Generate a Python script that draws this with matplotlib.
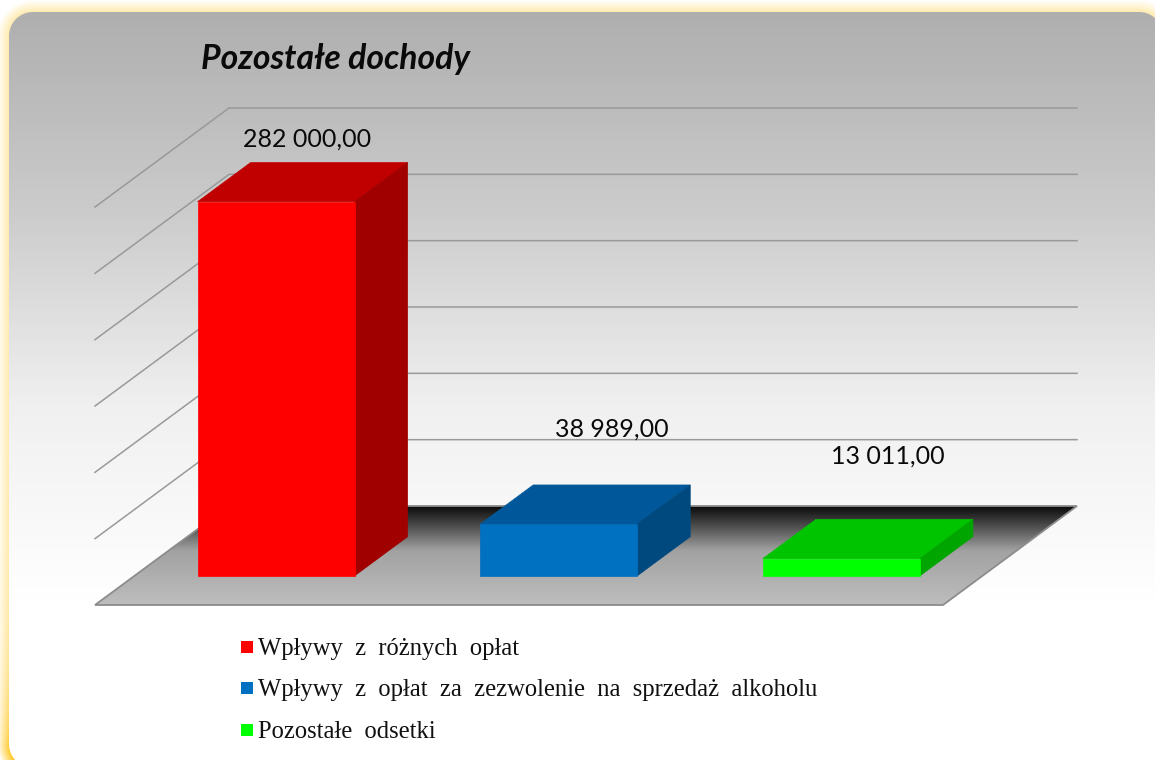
#!/usr/bin/env python3
# -*- coding: utf-8 -*-
import numpy as np
import matplotlib
matplotlib.use('Agg')
import matplotlib.pyplot as plt
from matplotlib.patches import Polygon
from matplotlib.colors import LinearSegmentedColormap

title = 'Pozostałe dochody'
categories = ['Wpływy z różnych opłat',
              'Wpływy z opłat za zezwolenie na sprzedaż alkoholu',
              'Pozostałe odsetki']
values = [282000.0, 38989.0, 13011.0]
value_labels = ['282 000,00', '38 989,00', '13 011,00']
grid_values = [50000, 100000, 150000, 200000, 250000, 300000]

front_cols = ['#ff0000', '#0070c0', '#00ff00']
top_cols = ['#c00000', '#00589a', '#00c400']
side_cols = ['#a00000', '#00497f', '#00a500']

# pixel scale of the fake 3d chart
W, H = 1155, 760
PX_CAT = 282.67
PX_VAL = 398.0 / 300000
X0, Y0 = 95, 605
DX, DY = 134.0, 99.0


def proj(x, d, v):
    # category x, depth d (0 front, 1 back), value v -> axes data
    return (x + d * DX / PX_CAT, v + d * DY / PX_VAL)


def px_x(p):
    return (p - X0) / PX_CAT


def px_y(p):
    return (Y0 - p) / PX_VAL


fig = plt.figure(figsize=(W / 100, H / 100), dpi=100)
ax = fig.add_axes([0, 0, 1, 1])
ext = [px_x(0), px_x(W), px_y(H), px_y(0)]
ax.axis('off')

# background: rounded panel with a yellow glow round it
px, py = np.meshgrid(np.arange(W) + 0.5, np.arange(H) + 0.5)
l, t, r, b, rad = 9, 12, 1163, 768, 24
qx = np.abs(px - (l + r) / 2) - ((r - l) / 2 - rad)
qy = np.abs(py - (t + b) / 2) - ((b - t) / 2 - rad)
sdf = np.hypot(np.maximum(qx, 0), np.maximum(qy, 0)) + np.minimum(np.maximum(qx, qy), 0) - rad
alpha = np.clip(1 - sdf / 12, 0, 1) * (0.35 + 0.65 * (py / H) ** 12)
yellow = np.array([1.0, 0.78, 0.12])
glow = 1 - alpha[..., None] * (1 - yellow)
bg = LinearSegmentedColormap.from_list('bg', ['#afafaf', '#cbcbcb', '#f0f0f0', '#ffffff'])
panel = bg(np.clip((py - 12) / 590.0, 0, 1))[..., :3]
inside = np.clip(0.5 - sdf, 0, 1)[..., None]
ax.imshow(inside * panel + (1 - inside) * glow, extent=ext, aspect='auto', origin='upper', zorder=0)

# walls
for v in grid_values:
    pts = [proj(0, 0, v), proj(0, 1, v), proj(3, 1, v)]
    ax.plot(*zip(*pts), color='#999999', lw=1.1, zorder=2)

# floor with black to gray gradient
floor_pts = [proj(0, 0, 0), proj(3, 0, 0), proj(3, 1, 0), proj(0, 1, 0)]
fl = LinearSegmentedColormap.from_list('fl', [(0, '#0c0c0c'), (0.45, '#a2a2a2'), (1, '#bdbdbd')])
floor_img = ax.imshow(np.linspace(0, 1, 100)[:, None], cmap=fl, aspect='auto', origin='upper',
                      extent=[proj(0, 0, 0)[0], proj(3, 1, 0)[0], proj(0, 0, 0)[1], proj(0, 1, 0)[1]],
                      zorder=2.5)
floor_img.set_clip_path(Polygon(floor_pts, transform=ax.transData))
ax.add_patch(Polygon(floor_pts, closed=True, fc='none', ec='#8c8c8c', lw=1.3, zorder=3))
ax.set_xlim(ext[0], ext[1])
ax.set_ylim(ext[2], ext[3])

# bars
bar_w = 157 / PX_CAT
d1, d2 = 0.295, 0.69
# label centres in pixels, they were dragged by hand in the original
label_px = [(307, 139), (612, 429), (888, 456)]
for i, v in enumerate(values):
    x1 = i + 0.5 - bar_w / 2 + 0.001
    x2 = x1 + bar_w
    ax.add_patch(Polygon([proj(x1, d1, v), proj(x2, d1, v), proj(x2, d2, v), proj(x1, d2, v)],
                         fc=top_cols[i], ec=top_cols[i], lw=0.5, zorder=5))
    ax.add_patch(Polygon([proj(x2, d1, 0), proj(x2, d2, 0), proj(x2, d2, v), proj(x2, d1, v)],
                         fc=side_cols[i], ec=side_cols[i], lw=0.5, zorder=5))
    ax.add_patch(Polygon([proj(x1, d1, 0), proj(x2, d1, 0), proj(x2, d1, v), proj(x1, d1, v)],
                         fc=front_cols[i], ec=front_cols[i], lw=0.5, zorder=6))
    ax.text(px_x(label_px[i][0]), px_y(label_px[i][1]), value_labels[i], family='Lato', fontsize=18,
            ha='center', va='center', color='#0a0a0a', zorder=7)

ax.text(px_x(335), px_y(59), title, family='Lato', style='italic', weight='bold',
        fontsize=24.3, ha='center', va='center', color='#0a0a0a', zorder=7)

# legend
for i, cat in enumerate(categories):
    ly = 646.5 + i * 41.5
    ax.plot([px_x(247)], [px_y(ly)], marker='s', ms=8.5, mew=0, color=front_cols[i], ls='none', zorder=7)
    ax.text(px_x(258), px_y(ly + 8), cat.replace(' ', '  '), family='Liberation Serif', fontsize=17.7,
            ha='left', va='baseline', color='#111111', zorder=7)

fig.savefig('out.png', dpi=100)
